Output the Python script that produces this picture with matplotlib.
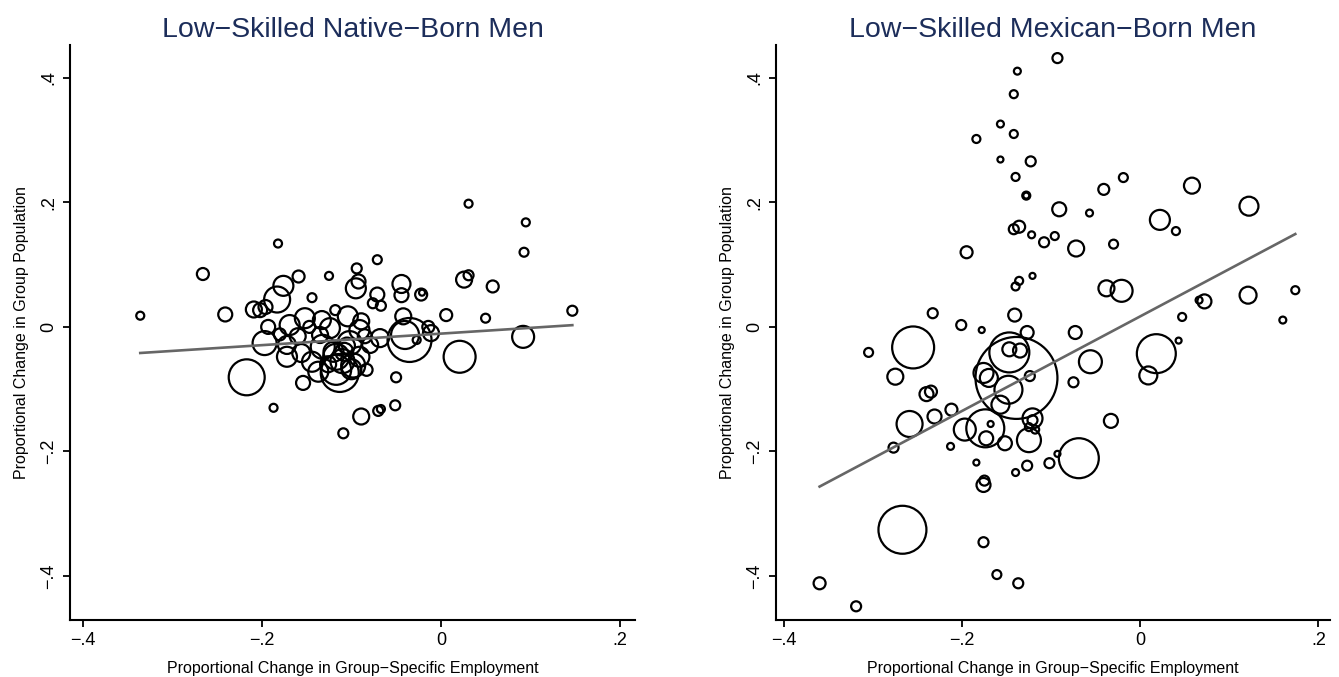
import numpy as np
import matplotlib.pyplot as plt

plt.rcParams['font.family'] = ['Liberation Sans', 'DejaVu Sans']

# low-skilled native-born men: (x change in employment, y change in population, weight)
native_x = [-0.336, -0.266, -0.241, -0.182, -0.159, -0.125, -0.144, -0.176, -0.183, -0.209,
            -0.202, -0.196, -0.217, -0.187, -0.109, -0.154, -0.193, -0.197, -0.169, -0.152,
            -0.133, -0.118, -0.104, -0.089, -0.172, -0.172, -0.156, -0.144, -0.132, -0.117,
            -0.117, -0.113, -0.102, -0.091, -0.083, -0.079, -0.135, -0.124, -0.091, -0.137,
            -0.092, -0.095, -0.094, -0.071, -0.071, -0.067, -0.068, -0.050, -0.051, -0.070,
            -0.067, -0.089, -0.042, -0.035, -0.040, -0.014, -0.011, -0.027, -0.044, -0.044,
            -0.022, -0.021, 0.006, 0.026, 0.031, 0.031, 0.058, 0.050, 0.021, 0.095,
            0.093, 0.092, 0.147, -0.076, -0.108, -0.098, -0.126, -0.085, -0.160, -0.180,
            -0.147, -0.110, -0.100, -0.120, -0.105]
native_y = [0.018, 0.085, 0.020, 0.134, 0.081, 0.082, 0.047, 0.066, 0.044, 0.028,
            0.027, 0.032, -0.081, -0.130, -0.171, -0.090, 0.000, -0.026, 0.003, 0.014,
            0.011, 0.027, 0.017, 0.009, -0.029, -0.048, -0.042, -0.056, -0.032, -0.048,
            -0.069, -0.074, -0.026, -0.048, -0.069, -0.029, -0.013, -0.002, -0.005, -0.072,
            0.073, 0.062, 0.094, 0.108, 0.052, 0.034, -0.018, -0.081, -0.126, -0.135,
            -0.132, -0.144, 0.017, -0.021, -0.013, 0.000, -0.010, -0.021, 0.069, 0.051,
            0.052, 0.055, 0.019, 0.076, 0.083, 0.198, 0.065, 0.014, -0.048, 0.168,
            0.120, -0.016, 0.026, 0.038, -0.040, -0.062, -0.060, -0.015, -0.015, -0.012,
            0.000, -0.055, -0.068, -0.040, -0.030]
native_w = [16, 36, 49, 16, 36, 16, 20, 100, 169, 64,
            49, 49, 324, 16, 25, 49, 49, 144, 100, 100,
            81, 25, 100, 64, 81, 100, 81, 100, 144, 169,
            225, 361, 144, 100, 36, 64, 64, 100, 100, 100,
            49, 100, 25, 20, 49, 25, 81, 25, 25, 25,
            16, 64, 64, 484, 196, 36, 64, 16, 81, 49,
            36, 9, 36, 64, 25, 16, 36, 20, 256, 16,
            20, 121, 25, 25, 81, 144, 64, 49, 64, 36,
            36, 144, 100, 100, 64]

# low-skilled Mexican-born men
mex_x = [-0.093, -0.138, -0.142, -0.157, -0.142, -0.184, -0.157, -0.123, -0.140, -0.128,
         -0.128, -0.091, -0.057, -0.041, -0.019, 0.022, 0.040, 0.058, 0.122, -0.142,
         -0.136, -0.122, -0.108, -0.096, -0.072, -0.030, -0.195, -0.121, -0.136, -0.140,
         -0.038, -0.021, 0.066, 0.072, 0.047, 0.121, 0.174, 0.160, 0.043, -0.073,
         -0.056, 0.018, 0.009, -0.075, -0.033, -0.069, -0.102, -0.093, -0.141, -0.233,
         -0.201, -0.178, -0.127, -0.305, -0.255, -0.275, -0.240, -0.235, -0.259, -0.231,
         -0.212, -0.277, -0.213, -0.197, -0.174, -0.168, -0.173, -0.152, -0.184, -0.176,
         -0.175, -0.140, -0.127, -0.125, -0.121, -0.121, -0.125, -0.118, -0.267, -0.176,
         -0.161, -0.137, -0.360, -0.319, -0.139, -0.147, -0.147, -0.135, -0.176, -0.170,
         -0.148, -0.157, -0.124]
mex_y = [0.432, 0.411, 0.374, 0.326, 0.310, 0.302, 0.269, 0.266, 0.241, 0.211,
         0.211, 0.189, 0.183, 0.221, 0.240, 0.172, 0.154, 0.227, 0.194, 0.157,
         0.161, 0.148, 0.136, 0.146, 0.126, 0.133, 0.120, 0.082, 0.074, 0.065,
         0.062, 0.058, 0.043, 0.041, 0.016, 0.051, 0.059, 0.011, -0.022, -0.009,
         -0.056, -0.043, -0.078, -0.089, -0.151, -0.211, -0.219, -0.204, 0.019, 0.022,
         0.003, -0.005, -0.009, -0.041, -0.033, -0.080, -0.108, -0.104, -0.156, -0.144,
         -0.133, -0.194, -0.192, -0.165, -0.163, -0.156, -0.179, -0.187, -0.218, -0.254,
         -0.247, -0.234, -0.223, -0.182, -0.147, -0.150, -0.161, -0.165, -0.326, -0.346,
         -0.398, -0.412, -0.412, -0.449, -0.082, -0.041, -0.036, -0.038, -0.074, -0.082,
         -0.101, -0.125, -0.079]
mex_w = [25, 12, 16, 12, 16, 16, 9, 25, 16, 16,
         9, 49, 12, 30, 20, 100, 16, 64, 90, 25,
         36, 12, 25, 16, 64, 20, 36, 9, 16, 16,
         64, 121, 12, 49, 16, 72, 16, 12, 9, 42,
         132, 380, 81, 25, 49, 400, 25, 9, 42, 25,
         25, 9, 42, 20, 441, 64, 49, 36, 169, 49,
         36, 25, 12, 121, 361, 9, 49, 49, 9, 49,
         25, 12, 25, 144, 100, 25, 16, 16, 576, 25,
         20, 25, 36, 25, 1681, 400, 49, 49, 100, 81,
         196, 81, 25]

# weighted fit lines: (slope, intercept)
fit_native = (0.0926, -0.0108)
fit_mex = (0.760, 0.017)

xticks = [-0.4, -0.2, 0, 0.2]
xtick_labels = ['\u2212.4', '\u2212.2', '0', '.2']
yticks = [-0.4, -0.2, 0, 0.2, 0.4]
ytick_labels = ['\u2212.4', '\u2212.2', '0', '.2', '.4']

titles = ['Low\u2212Skilled Native\u2212Born Men', 'Low\u2212Skilled Mexican\u2212Born Men']
xlabel = 'Proportional Change in Group\u2212Specific Employment'
ylabel = 'Proportional Change in Group Population'

fig = plt.figure(figsize=(13.39, 6.77), dpi=100)
ax1 = fig.add_axes([0.0523, 0.0842, 0.4219, 0.8493])
ax2 = fig.add_axes([0.5795, 0.0842, 0.4138, 0.8493])


def panel(ax, x, y, w, fit, title, xlim):
    x = np.array(x)
    s = 2.07 * np.array(w)
    ax.scatter(x, y, s=s, facecolors='none', edgecolors='black', linewidths=1.6, zorder=2)
    xx = np.array([x.min(), x.max()])
    ax.plot(xx, fit[0] * xx + fit[1], color='#666666', lw=1.9, zorder=3)
    ax.set_xlim(*xlim)
    ax.set_ylim(-0.471, 0.453)
    for side in ['top', 'right']:
        ax.spines[side].set_visible(False)
    for side in ['left', 'bottom']:
        ax.spines[side].set_linewidth(1.5)
    ax.set_xticks(xticks)
    ax.set_xticklabels(xtick_labels)
    ax.set_yticks(yticks)
    ax.set_yticklabels(ytick_labels, rotation=90, va='center')
    ax.tick_params(direction='out', length=5, width=1.3, labelsize=13, pad=4)
    ax.set_xlabel(xlabel, fontsize=11.5, labelpad=8)
    ax.set_ylabel(ylabel, fontsize=11.5, labelpad=8)
    ax.set_title(title, fontsize=20.5, color='#1c2d5a', pad=6)


panel(ax1, native_x, native_y, native_w, fit_native, titles[0], (-0.4145, 0.217))
panel(ax2, mex_x, mex_y, mex_w, fit_mex, titles[1], (-0.409, 0.213))

fig.savefig('out.png', dpi=100)
